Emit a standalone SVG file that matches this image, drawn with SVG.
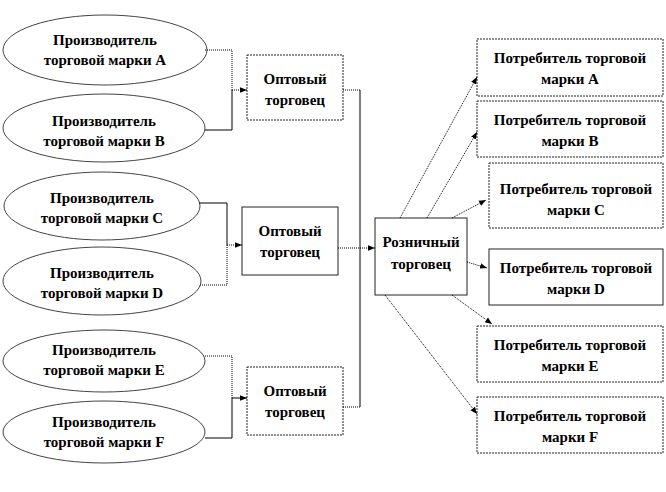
<svg xmlns="http://www.w3.org/2000/svg" width="666" height="492" viewBox="0 0 666 492">
<defs>
<marker id="ah" viewBox="0 0 10 10" refX="10" refY="5" markerWidth="7" markerHeight="7" orient="auto" markerUnits="userSpaceOnUse">
<path d="M0,1 L10,5 L0,9 Z" fill="#000"/>
</marker>
<style>
.el{fill:#fff;stroke:#444;stroke-width:1}
.bx{fill:#fff;stroke:#222;stroke-width:1}
.dbx{fill:#fff;stroke:#222;stroke-width:1;stroke-dasharray:2 1}
.t{font-family:"Liberation Serif","Times New Roman",serif;font-weight:bold;font-size:15px;fill:#000;text-anchor:middle}
.c{fill:none;stroke:#000;stroke-width:1}
.cd{fill:none;stroke:#000;stroke-width:1;stroke-dasharray:1 1}
</style>
</defs>
<rect width="666" height="492" fill="#fff"/>

<g id="prodA"><ellipse class="el" cx="105" cy="50" rx="102" ry="35"/><text class="t" x="105" y="45">Производитель</text><text class="t" x="105" y="65">торговой марки А</text></g>
<g id="prodB"><ellipse class="el" cx="104" cy="128" rx="101" ry="34"/><text class="t" x="104" y="126">Производитель</text><text class="t" x="104" y="146">торговой марки В</text></g>
<g id="prodC"><ellipse class="el" cx="102" cy="206" rx="98" ry="34"/><text class="t" x="102" y="203">Производитель</text><text class="t" x="102" y="223">торговой марки С</text></g>
<g id="prodD"><ellipse class="el" cx="102" cy="281" rx="99" ry="34"/><text class="t" x="102" y="278">Производитель</text><text class="t" x="102" y="298">торговой марки D</text></g>
<g id="prodE"><ellipse class="el" cx="104" cy="361" rx="101" ry="31"/><text class="t" x="104" y="355">Производитель</text><text class="t" x="104" y="375">торговой марки Е</text></g>
<g id="prodF"><ellipse class="el" cx="104" cy="432" rx="101" ry="31"/><text class="t" x="104" y="427">Производитель</text><text class="t" x="104" y="447">торговой марки F</text></g>

<g id="whole1"><rect class="dbx" x="247" y="55" width="96" height="65"/><text class="t" x="295" y="84">Оптовый</text><text class="t" x="295" y="105">торговец</text></g>
<g id="whole2"><rect class="bx" x="242" y="207" width="96" height="68"/><text class="t" x="290" y="236">Оптовый</text><text class="t" x="290" y="257">торговец</text></g>
<g id="whole3"><rect class="dbx" x="247" y="367" width="96" height="68"/><text class="t" x="295" y="396">Оптовый</text><text class="t" x="295" y="417">торговец</text></g>

<g id="retail"><rect class="bx" x="375" y="218" width="92" height="77"/><text class="t" x="421" y="247">Розничный</text><text class="t" x="421" y="269">торговец</text></g>

<g id="consA"><rect class="dbx" x="477" y="39" width="186" height="57"/><text class="t" x="570" y="63">Потребитель торговой</text><text class="t" x="570" y="84">марки А</text></g>
<g id="consB"><rect class="dbx" x="477" y="101" width="186" height="56"/><text class="t" x="570" y="125">Потребитель торговой</text><text class="t" x="570" y="146">марки В</text></g>
<g id="consC"><rect class="dbx" x="489" y="163" width="174" height="65"/><text class="t" x="576" y="194">Потребитель торговой</text><text class="t" x="576" y="215">марки С</text></g>
<g id="consD"><rect class="bx" x="489" y="249" width="174" height="56"/><text class="t" x="576" y="273">Потребитель торговой</text><text class="t" x="576" y="294">марки D</text></g>
<g id="consE"><rect class="dbx" x="477" y="326" width="186" height="56"/><text class="t" x="570" y="350">Потребитель торговой</text><text class="t" x="570" y="371">марки Е</text></g>
<g id="consF"><rect class="dbx" x="477" y="397" width="186" height="56"/><text class="t" x="570" y="421">Потребитель торговой</text><text class="t" x="570" y="442">марки F</text></g>

<g id="connectors">
<path class="cd" d="M205,50 H232 V90"/>
<path class="c" d="M205,130 H232 V90"/>
<path class="cd" d="M232,90 H247" marker-end="url(#ah)"/>
<path class="c" d="M199,203 H227 V245"/>
<path class="cd" d="M200,285 H227 V245"/>
<path class="cd" d="M227,245 H242" marker-end="url(#ah)"/>
<path class="cd" d="M205,356 H232 V398"/>
<path class="c" d="M205,438 H232 V398"/>
<path class="c" d="M232,398 H247" marker-end="url(#ah)"/>
<path class="cd" d="M343,90 H360"/>
<path class="c" d="M360,90 V407"/>
<path class="cd" d="M343,407 H360"/>
<path class="cd" d="M338,248 H375" marker-end="url(#ah)"/>
<path class="cd" d="M400,218 L477,77" marker-end="url(#ah)"/>
<path class="cd" d="M427,218 L477,132" marker-end="url(#ah)"/>
<path class="cd" d="M452,218 L486,200" marker-end="url(#ah)"/>
<path class="cd" d="M467,262 L487,268" marker-end="url(#ah)"/>
<path class="cd" d="M452,295 L492,324" marker-end="url(#ah)"/>
<path class="cd" d="M385,295 L477,414" marker-end="url(#ah)"/>
</g>
</svg>
